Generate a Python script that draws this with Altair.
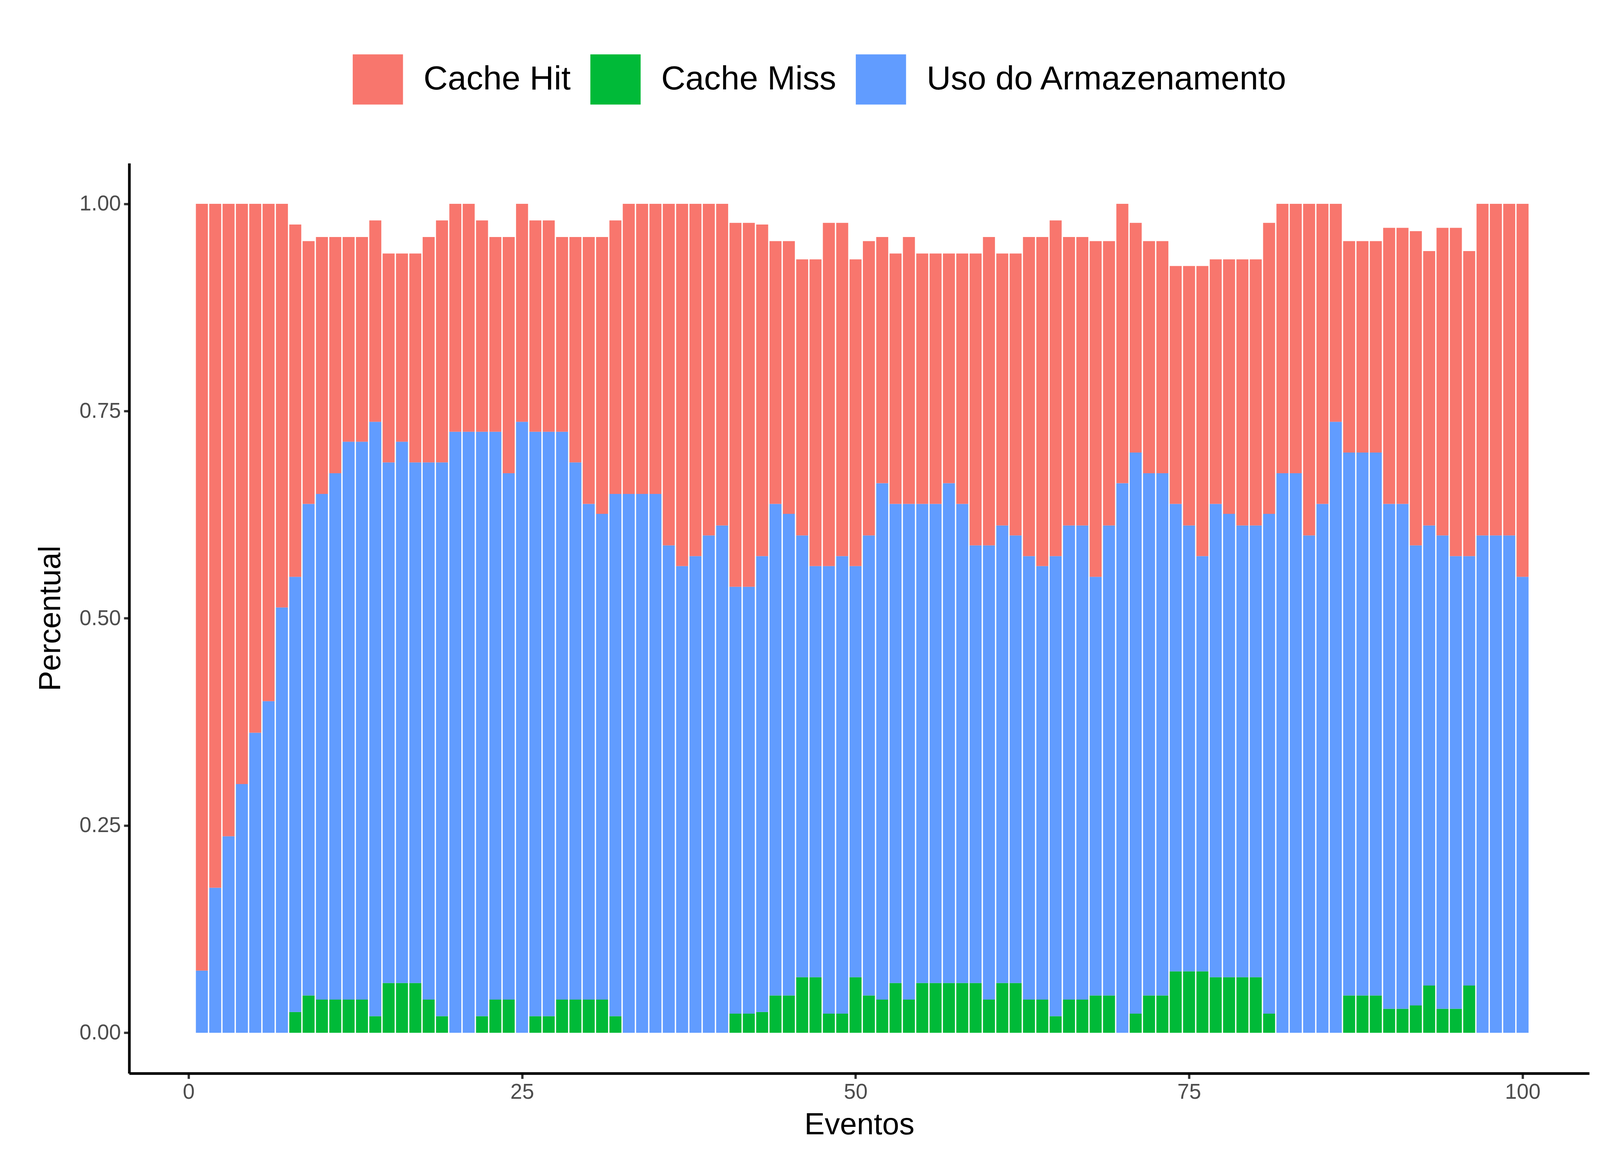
import altair as alt
import pandas as pd

# top of each stacked bar, top of the blue part, height of the green part
total = [1.0, 1.0, 1.0, 1.0, 1.0, 1.0, 1.0, 0.975, 0.955, 0.96,
         0.96, 0.96, 0.96, 0.98, 0.94, 0.94, 0.94, 0.96, 0.98, 1.0,
         1.0, 0.98, 0.96, 0.96, 1.0, 0.98, 0.98, 0.96, 0.96, 0.96,
         0.96, 0.98, 1.0, 1.0, 1.0, 1.0, 1.0, 1.0, 1.0, 1.0,
         0.977, 0.977, 0.975, 0.955, 0.955, 0.933, 0.933, 0.977, 0.977, 0.933,
         0.955, 0.96, 0.94, 0.96, 0.94, 0.94, 0.94, 0.94, 0.94, 0.96,
         0.94, 0.94, 0.96, 0.96, 0.98, 0.96, 0.96, 0.955, 0.955, 1.0,
         0.977, 0.955, 0.955, 0.925, 0.925, 0.925, 0.933, 0.933, 0.933, 0.933,
         0.977, 1.0, 1.0, 1.0, 1.0, 1.0, 0.955, 0.955, 0.955, 0.971,
         0.971, 0.967, 0.943, 0.971, 0.971, 0.943, 1.0, 1.0, 1.0, 1.0]

uso_top = [0.075, 0.175, 0.237, 0.30, 0.362, 0.40, 0.513, 0.55, 0.638, 0.65,
           0.675, 0.713, 0.713, 0.737, 0.688, 0.713, 0.688, 0.688, 0.688, 0.725,
           0.725, 0.725, 0.725, 0.675, 0.737, 0.725, 0.725, 0.725, 0.688, 0.638,
           0.626, 0.65, 0.65, 0.65, 0.65, 0.588, 0.563, 0.575, 0.60, 0.612,
           0.538, 0.538, 0.575, 0.638, 0.626, 0.60, 0.563, 0.563, 0.575, 0.563,
           0.60, 0.663, 0.638, 0.638, 0.638, 0.638, 0.663, 0.638, 0.588, 0.588,
           0.612, 0.60, 0.575, 0.563, 0.575, 0.612, 0.612, 0.55, 0.612, 0.663,
           0.70, 0.675, 0.675, 0.638, 0.612, 0.575, 0.638, 0.626, 0.612, 0.612,
           0.626, 0.675, 0.675, 0.60, 0.638, 0.737, 0.70, 0.70, 0.70, 0.638,
           0.638, 0.588, 0.612, 0.60, 0.575, 0.575, 0.60, 0.60, 0.60, 0.55]

miss = [0, 0, 0, 0, 0, 0, 0, 0.025, 0.045, 0.04,
        0.04, 0.04, 0.04, 0.02, 0.06, 0.06, 0.06, 0.04, 0.02, 0,
        0, 0.02, 0.04, 0.04, 0, 0.02, 0.02, 0.04, 0.04, 0.04,
        0.04, 0.02, 0, 0, 0, 0, 0, 0, 0, 0,
        0.023, 0.023, 0.025, 0.045, 0.045, 0.067, 0.067, 0.023, 0.023, 0.067,
        0.045, 0.04, 0.06, 0.04, 0.06, 0.06, 0.06, 0.06, 0.06, 0.04,
        0.06, 0.06, 0.04, 0.04, 0.02, 0.04, 0.04, 0.045, 0.045, 0,
        0.023, 0.045, 0.045, 0.074, 0.074, 0.074, 0.067, 0.067, 0.067, 0.067,
        0.023, 0, 0, 0, 0, 0, 0.045, 0.045, 0.045, 0.029,
        0.029, 0.033, 0.057, 0.029, 0.029, 0.057, 0, 0, 0, 0]

series = ["Cache Hit", "Cache Miss", "Uso do Armazenamento"]
colors = ["#F8766D", "#00BA38", "#619CFF"]

rows = []
for i in range(len(total)):
    ev = i + 1
    rows.append({"evento": ev, "serie": "Cache Miss", "base": 0, "top": miss[i]})
    rows.append({"evento": ev, "serie": "Uso do Armazenamento", "base": miss[i], "top": uso_top[i]})
    rows.append({"evento": ev, "serie": "Cache Hit", "base": uso_top[i], "top": total[i]})
df = pd.DataFrame(rows)
df["xl"] = df["evento"] - 0.45
df["xr"] = df["evento"] + 0.45

chart = alt.Chart(df).mark_bar(stroke=None).encode(
    alt.X("xl:Q", scale=alt.Scale(domain=[-4.45, 105.0], nice=False, zero=False),
          axis=alt.Axis(title="Eventos", values=[0, 25, 50, 75, 100], format="d")),
    alt.X2("xr:Q"),
    alt.Y("base:Q", scale=alt.Scale(domain=[-0.049, 1.049], nice=False, zero=False),
          axis=alt.Axis(title="Percentual", values=[0, 0.25, 0.5, 0.75, 1.0], format=".2f")),
    alt.Y2("top:Q"),
    alt.Color("serie:N", scale=alt.Scale(domain=series, range=colors),
              legend=alt.Legend(title=None, orient="none", direction="horizontal",
                                legendX=587, legendY=-286, symbolType="square",
                                symbolSize=17424, symbolStrokeWidth=0, symbolOpacity=1,
                                labelFontSize=88, labelOffset=54, columnPadding=51,
                                labelFont="Liberation Sans", labelColor="#000000",
                                labelLimit=2000)),
).properties(
    width=3834, height=2391,
    autosize=alt.AutoSizeParams(type="none"),
    padding={"left": 331, "top": 382, "right": 20, "bottom": 220},
).configure_view(stroke=None).configure_axis(
    grid=False, domainColor="#000000", domainWidth=7,
    tickColor="#333333", tickWidth=6, tickSize=14,
    labelFont="Liberation Sans", labelFontSize=56, labelColor="#4D4D4D", labelPadding=8,
    titleFont="Liberation Sans", titleFontSize=80, titleColor="#000000", titleFontWeight="normal",
).configure_axisX(titlePadding=20).configure_axisY(titlePadding=34)

chart.save("out.html", embed_options={"renderer": "svg", "actions": False})
